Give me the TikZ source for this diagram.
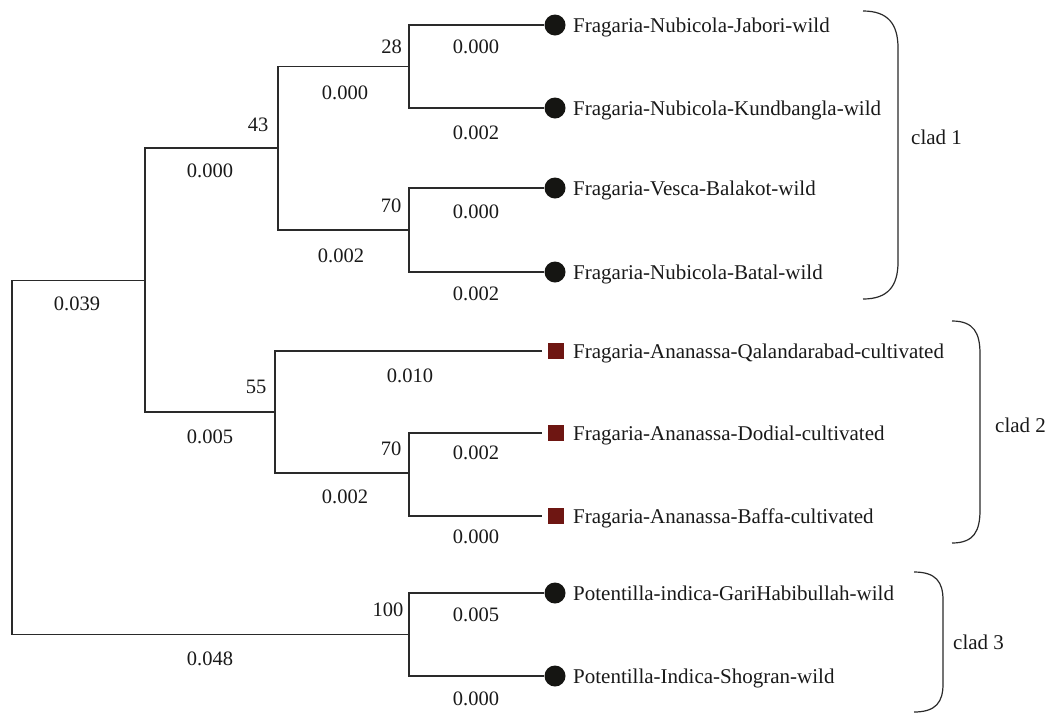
\documentclass[tikz,border=0pt]{standalone}
\usepackage{fontspec}
\setmainfont{Liberation Serif}
\definecolor{dotblack}{HTML}{151512}
\definecolor{cultred}{HTML}{6E1612}
\definecolor{linegray}{HTML}{2A2A2A}
\begin{document}
\begin{tikzpicture}[x=1pt,y=-1pt,
  branch/.style={draw=linegray, line width=1.1pt},
  wild/.style={circle, fill=dotblack, minimum size=21pt, inner sep=0pt},
  cult/.style={rectangle, fill=cultred, minimum size=16pt, inner sep=0pt},
  taxon/.style={anchor=base west, inner sep=0pt, font=\fontsize{21}{25}\selectfont, text=black!90},
  num/.style={inner sep=0pt, font=\fontsize{20.5}{24}\selectfont, text=black!90},
  cladbrace/.style={draw=linegray, line width=1.2pt},
  cladlabel/.style={anchor=base west, inner sep=0pt, font=\fontsize{21}{25}\selectfont, text=black!90},
  sq/.style={shorten >=6pt}
]
\useasboundingbox (0,0) rectangle (1048,713);
% internal nodes
\coordinate (root) at (12,457);
\coordinate (n1) at (145,280.5);
\coordinate (n2) at (278,148);
\coordinate (n3) at (409,66.5);
\coordinate (n4) at (409,230);
\coordinate (n5) at (275,412);
\coordinate (n6) at (409,473);
\coordinate (n7) at (409,634.5);
% leaf markers
\node[wild] (l1) at (555,25) {};
\node[wild] (l2) at (555,108) {};
\node[wild] (l3) at (555,188) {};
\node[wild] (l4) at (555,272) {};
\node[cult] (l5) at (556,351) {};
\node[cult] (l6) at (556,433) {};
\node[cult] (l7) at (556,516) {};
\node[wild] (l8) at (555,593) {};
\node[wild] (l9) at (555,676) {};
% branches
\draw[branch] (root) |- (n1);
\draw[branch] (root) |- (n7);
\draw[branch] (n1) |- (n2);
\draw[branch] (n1) |- (n5);
\draw[branch] (n2) |- (n3);
\draw[branch] (n2) |- (n4);
\draw[branch] (n3) |- (l1.west);
\draw[branch] (n3) |- (l2.west);
\draw[branch] (n4) |- (l3.west);
\draw[branch] (n4) |- (l4.west);
\draw[branch,sq] (n5) |- (l5.west);
\draw[branch] (n5) |- (n6);
\draw[branch,sq] (n6) |- (l6.west);
\draw[branch,sq] (n6) |- (l7.west);
\draw[branch] (n7) |- (l8.west);
\draw[branch] (n7) |- (l9.west);
% taxon labels
\node[taxon] (t1) at (573,32) {Fragaria-Nubicola-Jabori-wild};
\node[taxon] (t2) at (573,115) {Fragaria-Nubicola-Kundbangla-wild};
\node[taxon] (t3) at (573,195) {Fragaria-Vesca-Balakot-wild};
\node[taxon] (t4) at (573,279) {Fragaria-Nubicola-Batal-wild};
\node[taxon] (t5) at (573,358) {Fragaria-Ananassa-Qalandarabad-cultivated};
\node[taxon] (t6) at (573,440) {Fragaria-Ananassa-Dodial-cultivated};
\node[taxon] (t7) at (573,523) {Fragaria-Ananassa-Baffa-cultivated};
\node[taxon] (t8) at (573,600) {Potentilla-indica-GariHabibullah-wild};
\node[taxon] (t9) at (573,683) {Potentilla-Indica-Shogran-wild};
% bootstrap values
\node[num] (b28) at (391.5,47) {28};
\node[num] (b43) at (258,125) {43};
\node[num] (b70a) at (391,206) {70};
\node[num] (b55) at (256,387) {55};
\node[num] (b70b) at (391,449) {70};
\node[num] (b100) at (388,610) {100};
% branch lengths
\node[num] (d1) at (77,304) {0.039};
\node[num] (d2) at (210,171) {0.000};
\node[num] (d3) at (345,93) {0.000};
\node[num] (d4) at (341,256) {0.002};
\node[num] (d5) at (210,437) {0.005};
\node[num] (d6) at (410,376) {0.010};
\node[num] (d7) at (345,497) {0.002};
\node[num] (d8) at (210,659) {0.048};
\node[num] (e1) at (476,47) {0.000};
\node[num] (e2) at (476,133) {0.002};
\node[num] (e3) at (476,212) {0.000};
\node[num] (e4) at (476,294) {0.002};
\node[num] (e6) at (476,453) {0.002};
\node[num] (e7) at (476,537) {0.000};
\node[num] (e8) at (476,615) {0.005};
\node[num] (e9) at (476,699) {0.000};
% clade brackets
\draw[cladbrace] (863,11) .. controls (888,11) and (898,24) .. (898,48) -- (898,262) .. controls (898,286) and (888,299) .. (863,299);
\draw[cladbrace] (952,321) .. controls (974,321) and (980,333) .. (980,354) -- (980,510) .. controls (980,531) and (974,543) .. (952,543);
\draw[cladbrace] (914,572) .. controls (936,572) and (943,582) .. (943,600) -- (943,684) .. controls (943,702) and (936,712) .. (914,712);
\node[cladlabel] (c1) at (911,144) {clad 1};
\node[cladlabel] (c2) at (995,432) {clad 2};
\node[cladlabel] (c3) at (953,649) {clad 3};
\end{tikzpicture}
\end{document}
